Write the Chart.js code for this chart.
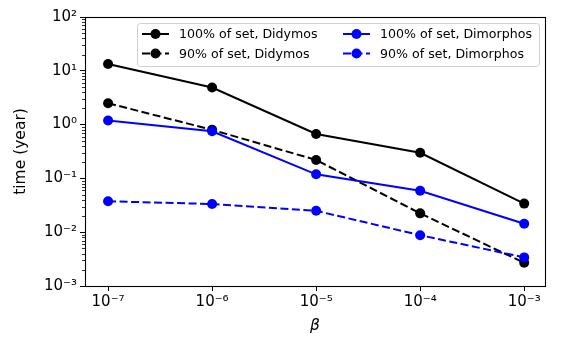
<!DOCTYPE html>
<html>
<head>
<meta charset="utf-8">
<script src="https://cdn.jsdelivr.net/npm/chart.js@4/dist/chart.umd.min.js"></script>
<style>
html,body{margin:0;padding:0;background:#fff;}
canvas{display:block;}
</style>
</head>
<body>
<canvas id="c" width="574" height="345"></canvas>
<script>
const betas = [1e-7, 1e-6, 1e-5, 1e-4, 1e-3];
const didymos100 = [13.4, 4.9, 0.67, 0.30, 0.034];
const didymos90 = [2.5, 0.80, 0.22, 0.0224, 0.0027];
const dimorphos100 = [1.19, 0.75, 0.119, 0.059, 0.0144];
const dimorphos90 = [0.0375, 0.0334, 0.025, 0.0088, 0.0034];
const seriesLabels = ['100% of set, Didymos', '90% of set, Didymos', '100% of set, Dimorphos', '90% of set, Dimorphos'];
const xTickExponents = [-7, -6, -5, -4, -3];
const yTickExponents = [-3, -2, -1, 0, 1, 2];
const xTitle = 'β';
const yTitle = 'time (year)';

const FONT = 'DejaVu Sans';
const SUP = {'-':'\u207B','0':'\u2070','1':'\u00B9','2':'\u00B2','3':'\u00B3','4':'\u2074','5':'\u2075','6':'\u2076','7':'\u2077','8':'\u2078','9':'\u2079'};
const sup = s => String(s).split('').map(c => SUP[c] || c).join('');
const isDecade = v => Math.abs(Math.log10(v) - Math.round(Math.log10(v))) < 1e-9;

function mk(label, vals, color, dashed, order) {
  return {
    label, order,
    data: betas.map((b, i) => ({x: b, y: vals[i]})),
    borderColor: color, backgroundColor: color,
    pointBackgroundColor: color, pointBorderColor: color,
    borderWidth: 2, pointRadius: 5, pointBorderWidth: 0,
    borderDash: dashed ? [8, 3.5] : [],
    tension: 0, fill: false
  };
}

const datasets = [
  mk(seriesLabels[0], didymos100, '#000000', false, 4),
  mk(seriesLabels[1], didymos90, '#000000', true, 3),
  mk(seriesLabels[2], dimorphos100, '#0000ff', false, 2),
  mk(seriesLabels[3], dimorphos90, '#0000ff', true, 1)
];

const framePlugin = {
  id: 'frame',
  afterDraw(chart) {
    const ctx = chart.ctx, a = chart.chartArea;
    const y = chart.scales.y;
    ctx.save();
    // minor ticks on y axis
    ctx.strokeStyle = '#000'; ctx.lineWidth = 0.8;
    y.ticks.forEach(t => {
      if (!isDecade(t.value)) {
        const p = Math.round(y.getPixelForValue(t.value)) + 0.5;
        ctx.beginPath(); ctx.moveTo(a.left - 3, p); ctx.lineTo(a.left, p); ctx.stroke();
      }
    });
    // frame
    ctx.lineWidth = 1.1;
    ctx.strokeRect(Math.round(a.left) + 0.5, Math.round(a.top) + 0.5, Math.round(a.right - a.left), Math.round(a.bottom - a.top));
    // legend
    const bx = 137.5, by = 23.5, bw = 402, bh = 43, r = 3;
    ctx.beginPath();
    ctx.moveTo(bx + r, by); ctx.lineTo(bx + bw - r, by); ctx.arcTo(bx + bw, by, bx + bw, by + r, r);
    ctx.lineTo(bx + bw, by + bh - r); ctx.arcTo(bx + bw, by + bh, bx + bw - r, by + bh, r);
    ctx.lineTo(bx + r, by + bh); ctx.arcTo(bx, by + bh, bx, by + bh - r, r);
    ctx.lineTo(bx, by + r); ctx.arcTo(bx, by, bx + r, by, r);
    ctx.closePath();
    ctx.fillStyle = 'rgba(255,255,255,0.8)'; ctx.fill();
    ctx.strokeStyle = '#d0d0d0'; ctx.lineWidth = 1; ctx.stroke();
    const slots = [
      {ds: 0, x: 142, y: 34}, {ds: 1, x: 142, y: 53.5},
      {ds: 2, x: 343, y: 34}, {ds: 3, x: 343, y: 53.5}
    ];
    ctx.font = '12.6px "' + FONT + '"';
    ctx.textBaseline = 'middle';
    slots.forEach(s => {
      const d = chart.data.datasets[s.ds];
      ctx.strokeStyle = d.borderColor; ctx.fillStyle = d.borderColor;
      ctx.lineWidth = 2;
      ctx.setLineDash(d.borderDash || []);
      ctx.beginPath(); ctx.moveTo(s.x, s.y); ctx.lineTo(s.x + 27, s.y); ctx.stroke();
      ctx.setLineDash([]);
      ctx.beginPath(); ctx.arc(s.x + 13.5, s.y, 5, 0, Math.PI * 2); ctx.fill();
      ctx.fillStyle = '#000';
      ctx.fillText(d.label, s.x + 37, s.y + 1);
    });
    ctx.restore();
  }
};

const tickFont = {family: FONT, size: 15};

new Chart(document.getElementById('c'), {
  type: 'line',
  data: {datasets},
  plugins: [framePlugin],
  options: {
    responsive: false, animation: false, devicePixelRatio: 1,
    layout: {padding: {top: 17, right: 29, left: 0, bottom: 0}},
    plugins: {legend: {display: false}, tooltip: {enabled: false}},
    scales: {
      x: {
        type: 'logarithmic',
        min: Math.pow(10, -7.2), max: Math.pow(10, -2.8),
        afterBuildTicks: s => { s.ticks = xTickExponents.map(e => ({value: Math.pow(10, e)})); },
        afterFit: s => { s.height = 59; },
        ticks: {autoSkip: false, maxRotation: 0, padding: 2, color: '#000', font: tickFont,
          callback: v => '10' + sup(Math.round(Math.log10(v)))},
        grid: {drawOnChartArea: false, tickLength: 5, tickColor: '#000', tickWidth: 1},
        border: {display: false},
        title: {display: true, text: xTitle, color: '#000', font: {family: FONT, size: 15.5, style: 'italic'}, padding: {top: 2, bottom: 10}}
      },
      y: {
        type: 'logarithmic',
        min: 1e-3, max: 1e2,
        afterBuildTicks: s => {
          const t = [];
          for (let e = yTickExponents[0]; e < yTickExponents[yTickExponents.length - 1]; e++) {
            for (let m = 1; m <= 9; m++) t.push({value: m * Math.pow(10, e)});
          }
          t.push({value: Math.pow(10, yTickExponents[yTickExponents.length - 1])});
          s.ticks = t;
        },
        afterFit: s => { s.width = 85; },
        ticks: {autoSkip: false, padding: 3, color: '#000', font: tickFont,
          callback: v => isDecade(v) ? '10' + sup(Math.round(Math.log10(v))) : ''},
        grid: {drawOnChartArea: false, tickLength: 5, tickWidth: 1,
          tickColor: c => (c.tick && isDecade(c.tick.value)) ? '#000' : 'rgba(0,0,0,0)'},
        border: {display: false},
        title: {display: true, text: yTitle, color: '#000', font: {family: FONT, size: 15.5}, padding: {top: 12, bottom: 0}}
      }
    }
  }
});
</script>
</body>
</html>
